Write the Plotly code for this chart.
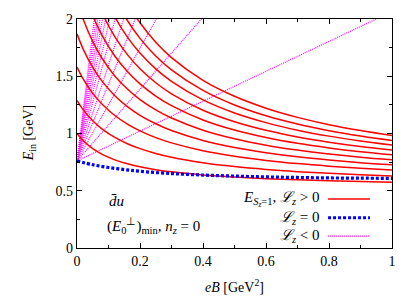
import plotly.graph_objects as go

# eB grid [GeV^2] at which the L_z>0 curves were read
xr = [0, 0.02, 0.05, 0.08, 0.12, 0.16, 0.2, 0.25, 0.3, 0.4, 0.5, 0.6, 0.7, 0.8, 0.9, 1.0]
# E_in [GeV] for the L_z > 0 family (lowest first)
red_curves = [
    [1.000, 0.936, 0.867, 0.817, 0.770, 0.735, 0.709, 0.684, 0.665, 0.638, 0.619, 0.605, 0.595, 0.587, 0.581, 0.575],
    [1.290, 1.206, 1.111, 1.038, 0.966, 0.911, 0.868, 0.826, 0.793, 0.745, 0.711, 0.686, 0.667, 0.652, 0.639, 0.629],
    [1.581, 1.475, 1.350, 1.255, 1.157, 1.082, 1.023, 0.964, 0.918, 0.849, 0.801, 0.765, 0.737, 0.715, 0.697, 0.682],
    [1.870, 1.735, 1.577, 1.455, 1.330, 1.235, 1.159, 1.085, 1.026, 0.939, 0.877, 0.832, 0.796, 0.768, 0.745, 0.726],
    [2.159, 1.995, 1.803, 1.655, 1.503, 1.388, 1.296, 1.206, 1.135, 1.029, 0.954, 0.898, 0.855, 0.821, 0.793, 0.770],
    [2.448, 2.255, 2.029, 1.855, 1.677, 1.541, 1.433, 1.327, 1.243, 1.118, 1.030, 0.965, 0.914, 0.874, 0.841, 0.814],
    [2.739, 2.515, 2.252, 2.051, 1.846, 1.689, 1.565, 1.443, 1.346, 1.203, 1.103, 1.028, 0.970, 0.924, 0.886, 0.855],
    [3.031, 2.778, 2.481, 2.253, 2.020, 1.842, 1.703, 1.564, 1.455, 1.293, 1.179, 1.095, 1.029, 0.977, 0.935, 0.899],
    [3.321, 3.035, 2.701, 2.446, 2.186, 1.987, 1.831, 1.677, 1.556, 1.376, 1.249, 1.155, 1.083, 1.025, 0.978, 0.939],
    [3.611, 3.296, 2.927, 2.645, 2.358, 2.139, 1.967, 1.797, 1.663, 1.464, 1.325, 1.221, 1.141, 1.077, 1.026, 0.983],
]

# L_z = 0 curve
xb = [0, 0.05, 0.1, 0.15, 0.2, 0.3, 0.4, 0.5, 0.6, 0.7, 0.8, 0.9, 1.0]
blue_y = [0.760, 0.727, 0.703, 0.685, 0.670, 0.650, 0.637, 0.628, 0.621, 0.616, 0.612, 0.610, 0.608]

# L_z < 0 rays: common start and eB where each reaches E_in = 2 GeV
mag_start = 0.76
mag_top_y = 2.0
mag_x_top = [0.95, 0.395, 0.252, 0.185, 0.148, 0.121, 0.104, 0.091, 0.081, 0.073, 0.066, 0.060, 0.055]

RED = "#ff0000"
BLUE = "#0000ff"
MAG = "#ff00ff"
FONT = "Liberation Serif"

fig = go.Figure()
for xt in mag_x_top:
    fig.add_trace(go.Scatter(x=[0, xt], y=[mag_start, mag_top_y], mode="lines",
                             line=dict(color=MAG, width=1.2, dash="1px,1px"),
                             showlegend=False, hoverinfo="skip"))
for ys in red_curves:
    fig.add_trace(go.Scatter(x=xr, y=ys, mode="lines", line_shape="spline",
                             line=dict(color=RED, width=1.5),
                             showlegend=False, hoverinfo="skip"))
fig.add_trace(go.Scatter(x=xb, y=blue_y, mode="lines", line_shape="spline",
                         line=dict(color=BLUE, width=3.2, dash="3px,2px"),
                         showlegend=False, hoverinfo="skip"))

axis_common = dict(showgrid=False, zeroline=False, showline=True, linecolor="black",
                   linewidth=1.2, mirror="allticks", ticks="inside", ticklen=5,
                   tickcolor="black", automargin=False,
                   tickfont=dict(family=FONT, size=14, color="black"))

fig.update_xaxes(range=[0, 1], tickvals=[0, 0.2, 0.4, 0.6, 0.8, 1],
                 ticktext=["0", "0.2", "0.4", "0.6", "0.8", "1"],
                 minor=dict(ticks="inside", ticklen=3, dtick=0.1, tickcolor="black"),
                 title=dict(text="<i>eB</i> [GeV<sup>2</sup>]", font=dict(family=FONT, size=14),
                            standoff=14),
                 **axis_common)
fig.update_yaxes(range=[0, 2], tickvals=[0, 0.5, 1, 1.5, 2],
                 ticktext=["0", "0.5", "1", "1.5", "2"],
                 minor=dict(ticks="inside", ticklen=3, dtick=0.25, tickcolor="black"),
                 **axis_common)

annots = [
    dict(x=-0.15, y=0.5, xref="paper", yref="paper", text="<i>E</i><sub>in</sub> [GeV]",
         textangle=-90, showarrow=False, xanchor="center", yanchor="middle",
         font=dict(family=FONT, size=14)),
    dict(x=0.096, y=0.41, xref="x", yref="y", text="<i>d\u0304u</i>", showarrow=False,
         xanchor="left", yanchor="middle", font=dict(family=FONT, size=15)),
    dict(x=0.088, y=0.19, xref="x", yref="y",
         text="(<i>E</i><sub>0</sub><sup>\u22a5</sup>)<sub>min</sub>, <i>n<sub>z</sub></i> = 0",
         showarrow=False, xanchor="left", yanchor="middle", font=dict(family=FONT, size=15)),
    dict(x=0.778, y=0.214, xref="paper", yref="paper",
         text="<i>E</i><sub><i>S<sub>z</sub></i>=1</sub>, <i>\u2112<sub>z</sub></i> > 0",
         showarrow=False, xanchor="right", yanchor="middle", font=dict(family=FONT, size=15)),
    dict(x=0.778, y=0.132, xref="paper", yref="paper",
         text="<i>\u2112<sub>z</sub></i> = 0",
         showarrow=False, xanchor="right", yanchor="middle", font=dict(family=FONT, size=15)),
    dict(x=0.778, y=0.052, xref="paper", yref="paper",
         text="<i>\u2112<sub>z</sub></i> < 0",
         showarrow=False, xanchor="right", yanchor="middle", font=dict(family=FONT, size=15)),
]
shapes = [
    dict(type="line", xref="paper", yref="paper", x0=0.797, x1=0.930, y0=0.214, y1=0.214,
         line=dict(color=RED, width=1.5)),
    dict(type="line", xref="paper", yref="paper", x0=0.797, x1=0.930, y0=0.132, y1=0.132,
         line=dict(color=BLUE, width=3.2, dash="3px,2px")),
    dict(type="line", xref="paper", yref="paper", x0=0.797, x1=0.930, y0=0.052, y1=0.052,
         line=dict(color=MAG, width=1.2, dash="1px,1px")),
]

fig.update_layout(width=418, height=300, margin=dict(l=69, r=34, t=11, b=60, autoexpand=False),
                  paper_bgcolor="white", plot_bgcolor="white",
                  annotations=annots, shapes=shapes,
                  font=dict(family=FONT, size=14, color="black"))

fig.write_html("out.html")
